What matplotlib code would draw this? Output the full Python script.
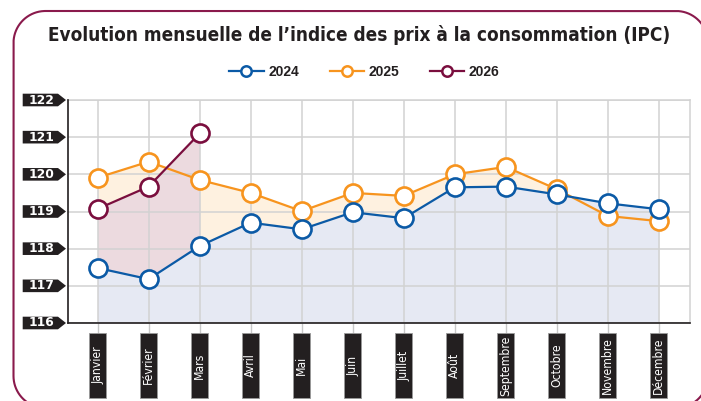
import matplotlib
matplotlib.use("Agg")
import numpy as np
import matplotlib.pyplot as plt
from matplotlib import font_manager
from matplotlib.patches import Rectangle, Polygon
from matplotlib.lines import Line2D
from matplotlib.transforms import IdentityTransform, blended_transform_factory

# ---------------- data ----------------
months = ["Janvier", "Février", "Mars", "Avril", "Mai", "Juin", "Juillet",
          "Août", "Septembre", "Octobre", "Novembre", "Décembre"]
ipc_2024 = [117.48, 117.18, 118.07, 118.70, 118.52, 118.98, 118.82,
            119.65, 119.67, 119.46, 119.22, 119.06]
ipc_2025 = [119.91, 120.34, 119.85, 119.50, 119.01, 119.50, 119.42,
            120.00, 120.20, 119.60, 118.88, 118.74]
ipc_2026 = [119.07, 119.67, 121.10]
y_ticks = [116, 117, 118, 119, 120, 121, 122]
title = "Evolution mensuelle de l’indice des prix à la consommation (IPC)"

# ---------------- fonts ----------------
names = {f.name for f in font_manager.fontManager.ttflist}
narrow = "Liberation Sans Narrow" if "Liberation Sans Narrow" in names else None
if narrow:
    cond_kw = dict(family=[narrow, "DejaVu Sans"])
else:
    cond_kw = dict(family=["DejaVu Sans"], stretch="condensed")

W, H = 701, 401
fig = plt.figure(figsize=(W / 100, H / 100), dpi=100)
ax = fig.add_axes([68 / W, 1 - 323 / H, (690 - 68) / W, (323 - 100) / H])

c24, c25, c26 = "#0b5aa6", "#f7941e", "#7a0e3e"
f24, f25, f26 = "#e6e9f3", "#fef1e0", "#ecdadf"

x = list(range(len(months)))
x26 = x[:len(ipc_2026)]
base = y_ticks[0]

ax.fill_between(x, ipc_2025, base, color=f25, lw=0, zorder=1)
ax.fill_between(x26, ipc_2026, base, color=f26, lw=0, zorder=1.1)
ax.fill_between(x, ipc_2024, base, color=f24, lw=0, zorder=1.2)

mk = dict(marker="o", markersize=13, markerfacecolor="white",
          markeredgewidth=1.9, linewidth=1.6)
ax.plot(x, ipc_2024, color=c24, zorder=4, **mk)
ax.plot(x, ipc_2025, color=c25, zorder=3, **mk)
ax.plot(x26, ipc_2026, color=c26, zorder=5, **mk)

ax.set_xlim(-0.58, 11.61)
ax.set_ylim(y_ticks[0], y_ticks[-1])
ax.set_xticks(x)
ax.set_yticks(y_ticks)
ax.set_xticklabels([])
ax.set_yticklabels([])
ax.grid(True, color="#d2d2d2", linewidth=1.1, zorder=2)
ax.set_axisbelow(False)
for gl in ax.get_xgridlines() + ax.get_ygridlines():
    gl.set_zorder(2)
ax.tick_params(axis="x", length=7.2, width=1.0, color="#c8c8c8", direction="out")
ax.tick_params(axis="y", length=0)
for s in ("top", "right"):
    ax.spines[s].set_color("#d2d2d2")
    ax.spines[s].set_linewidth(1.1)
for s in ("left", "bottom"):
    ax.spines[s].set_color("#231f20")
    ax.spines[s].set_linewidth(1.2)
    ax.spines[s].set_zorder(6)

# y tick label boxes (arrow shaped)
ytr = blended_transform_factory(IdentityTransform(), ax.transData)
hh = 6.3 / 37.1
for v in y_ticks:
    poly = Polygon([(22.7, v - hh), (58, v - hh), (66, v), (58, v + hh), (22.7, v + hh)],
                   closed=True, facecolor="#231f20", edgecolor="none",
                   transform=ytr, clip_on=False, zorder=7)
    ax.add_patch(poly)
    ax.text(41, v, str(v), transform=ytr, ha="center", va="center",
            color="white", fontsize=8.8, fontweight="bold", family="DejaVu Sans",
            clip_on=False, zorder=8)

# x tick label boxes
xtr = blended_transform_factory(ax.transData, IdentityTransform())
bw = 17 / 51.0
mtexts = []
for i, m in zip(x, months):
    ax.add_patch(Rectangle((i - bw / 2, 401 - 398), bw, 65, transform=xtr,
                           facecolor="#231f20", edgecolor="#9a9a9a", lw=0.6,
                           clip_on=False, zorder=7))
    mtexts.append(ax.text(i, 401 - 365.5, m, transform=xtr, rotation=90,
                          ha="center", va="center", color="white", fontsize=9.5,
                          fontweight="medium", clip_on=False, zorder=8, **cond_kw))

# title
t = fig.text(359.5 / W, 1 - 41 / H, title, ha="center", va="baseline",
             fontsize=16, fontweight="bold", color="#231f20", **cond_kw)
fig.canvas.draw()
bb = t.get_window_extent()
t.set_fontsize(16 * 621 / bb.width)
hmax = max(mt.get_window_extent().height for mt in mtexts)
if hmax > 61:
    for mt in mtexts:
        mt.set_fontsize(9.5 * 61 / hmax)

# legend
handles = [Line2D([], [], color=c, marker="o", markersize=7.5,
                  markerfacecolor="white", markeredgewidth=1.8, linewidth=1.6)
           for c in (c24, c25, c26)]
fig.legend(handles, ["2024", "2025", "2026"], loc="center",
           bbox_to_anchor=(364.5 / W, 1 - 71.7 / H), ncol=3, frameon=False,
           handlelength=2.45, handletextpad=0.35, columnspacing=2.2,
           borderpad=0, prop=dict(family=["Liberation Sans", "DejaVu Sans"],
                                  weight="bold", size=10))
for txt in fig.legends[0].get_texts():
    txt.set_color("#231f20")

# rounded frame (pixel coordinates, y measured from the top)
L, T, R, B, r = 13.5, 11.0, 708.0, 408.0, 32.0
def arc(cx, cy, a0, a1):
    a = np.linspace(np.radians(a0), np.radians(a1), 40)
    return cx + r * np.cos(a), cy - r * np.sin(a)
parts = [arc(L + r, B - r, 270, 180), arc(L + r, T + r, 180, 90),
         arc(R - r, T + r, 90, 0), arc(R - r, B - r, 0, -90)]
fx = np.concatenate([p[0] for p in parts] + [[L + r]])
fy = np.concatenate([p[1] for p in parts] + [[B]])
fig.add_artist(Line2D(fx, H - fy, transform=IdentityTransform(),
                      color="#8a1a4c", linewidth=1.5, zorder=0))

fig.savefig("out.png", dpi=100)
